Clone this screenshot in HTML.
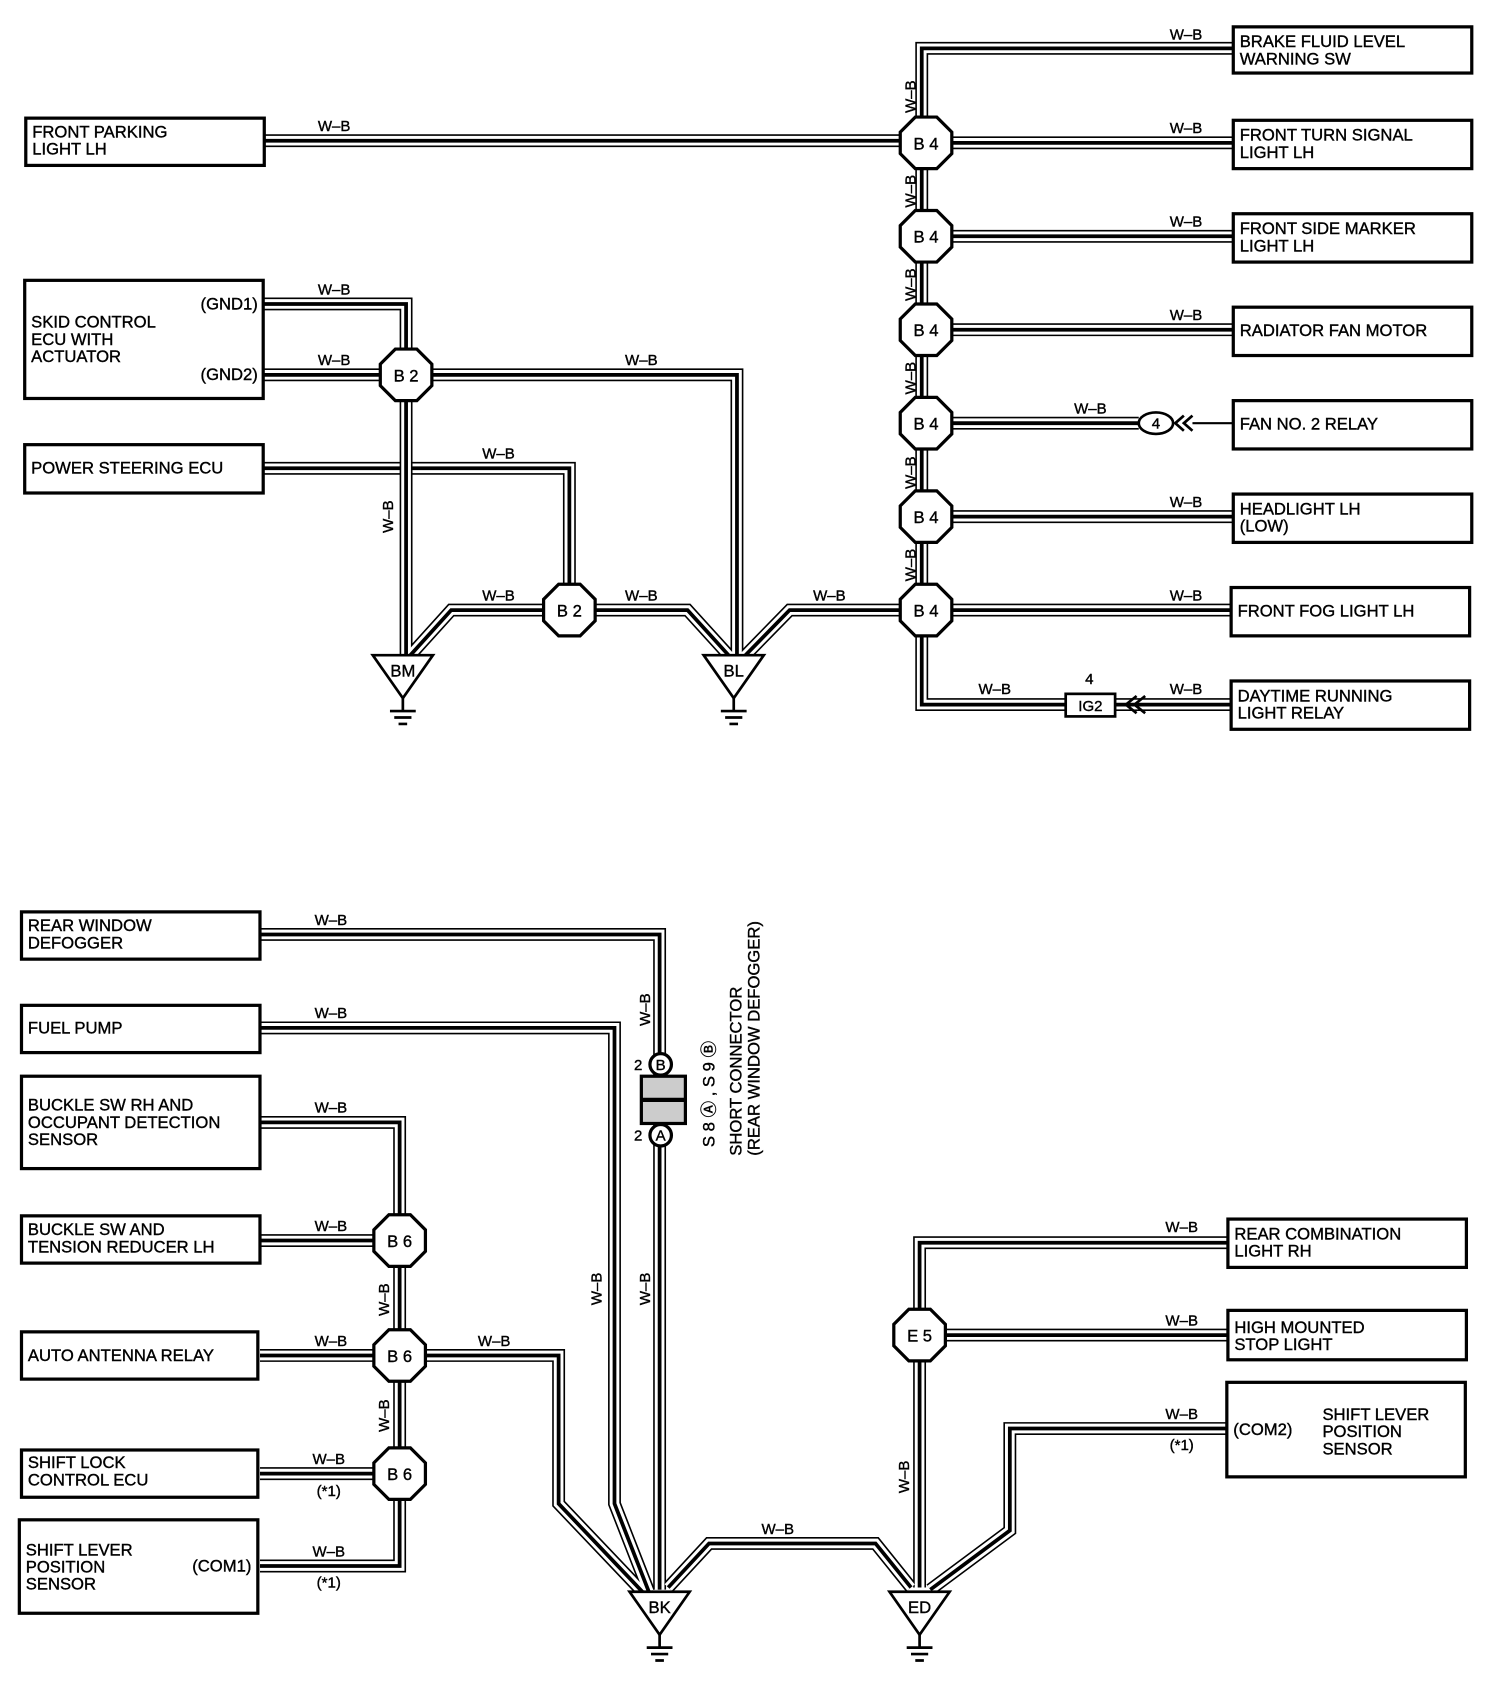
<!DOCTYPE html>
<html><head><meta charset="utf-8"><style>
html,body{margin:0;padding:0;background:#fff;}
svg{display:block;}
text{font-family:"Liberation Sans",sans-serif;fill:#000;stroke:#000;stroke-width:0.35;}
.b{font-size:15.5px;}
.l{font-size:14px;}
</style></head><body>
<svg width="1504" height="1682" viewBox="0 0 1400 1566" preserveAspectRatio="none" xmlns="http://www.w3.org/2000/svg">
<defs>
<g id="w1" fill="none">
<path d="M245 436 H530 V545"/>
</g>
<g id="wires" fill="none">
<path d="M1148 45 H858 V656 H992"/>
<path d="M246 131 H838"/>
<path d="M886 133 H1148 M886 220 H1148 M886 307 H1148 M886 394 H1060 M886 481 H1148 M886 568 H1148"/>
<path d="M1038 656 H1148"/>
<path d="M245 283 H378 V610 M245 349 H354 M402 349 H686 V612"/>
<path d="M506 568 H420 L382 610 M554 568 H640 L680 612"/>
<path d="M838 568 H735 L692 612"/>
<path d="M242 870 H614 V1480"/>
<path d="M242 957 H572 V1400 L604 1482"/>
<path d="M242 1045 H372 V1458 H242"/>
<path d="M242 1155 H348 M242 1262 H348 M242 1372 H348"/>
<path d="M396 1262 H520 V1400 L598 1482"/>
<path d="M622 1478 L660 1437 H815 L848 1478"/>
<path d="M1143 1157 H856 V1478"/>
<path d="M880 1243 H1143"/>
<path d="M1142 1330 H940 V1425 L866 1480"/>
</g>
<polygon id="oct" points="-10,-24 10,-24 24,-10 24,10 10,24 -10,24 -24,10 -24,-10" fill="#fff" stroke="#000" stroke-width="3"/>
<g id="gnd" fill="#fff" stroke="#000" stroke-width="2.5">
<polygon points="-28,0 28,0 0,40"/>
<path d="M0 40 V52 M-12 52 H12 M-8 58 H8 M-4 64 H4" fill="none"/>
</g>
</defs>
<use href="#w1" stroke="#000" stroke-width="12"/>
<use href="#w1" stroke="#fff" stroke-width="9"/>
<use href="#w1" stroke="#000" stroke-width="3.5"/>
<use href="#wires" stroke="#000" stroke-width="12"/>
<use href="#wires" stroke="#fff" stroke-width="9"/>
<use href="#wires" stroke="#000" stroke-width="3.5"/>
<path d="M1110 394 H1148" stroke="#000" stroke-width="2"/>

<g fill="#fff" stroke="#000" stroke-width="3">
<rect x="1148" y="25" width="222" height="43"/>
<rect x="1148" y="112" width="222" height="45"/>
<rect x="1148" y="199" width="222" height="45"/>
<rect x="1148" y="286" width="222" height="45"/>
<rect x="1148" y="373" width="222" height="45"/>
<rect x="1148" y="460" width="222" height="45"/>
<rect x="1146" y="547" width="222" height="45"/>
<rect x="1146" y="634" width="222" height="45"/>
<rect x="24" y="110" width="222" height="44"/>
<rect x="23" y="261" width="222" height="110"/>
<rect x="23" y="414" width="222" height="45"/>
<rect x="20" y="849" width="222" height="44"/>
<rect x="20" y="936" width="222" height="44"/>
<rect x="20" y="1002" width="222" height="86"/>
<rect x="20" y="1132" width="222" height="44"/>
<rect x="20" y="1240" width="220" height="44"/>
<rect x="20" y="1350" width="220" height="44"/>
<rect x="18" y="1415" width="222" height="87"/>
<rect x="1143" y="1135" width="222" height="45"/>
<rect x="1143" y="1220" width="222" height="46"/>
<rect x="1142" y="1287" width="222" height="88"/>
<rect x="992" y="646" width="46" height="21" stroke-width="2.5"/>
<ellipse cx="1076" cy="394" rx="16" ry="10" stroke-width="2.5"/>
</g>
<text x="1014" y="637" class="l" text-anchor="middle">4</text>
<text x="1015" y="662" class="l" text-anchor="middle">IG2</text>
<text x="1076" y="399" class="l" text-anchor="middle">4</text>
<path d="M1058 648 L1048 656 L1058 664 M1066 648 L1056 656 L1066 664 M1102 387 L1094 394 L1102 401 M1110 387 L1102 394 L1110 401" fill="none" stroke="#000" stroke-width="2.5"/>

<g class="b">
<text x="1154" y="44">BRAKE FLUID LEVEL</text><text x="1154" y="60">WARNING SW</text>
<text x="1154" y="131">FRONT TURN SIGNAL</text><text x="1154" y="147">LIGHT LH</text>
<text x="1154" y="218">FRONT SIDE MARKER</text><text x="1154" y="234">LIGHT LH</text>
<text x="1154" y="313">RADIATOR FAN MOTOR</text>
<text x="1154" y="400">FAN NO. 2 RELAY</text>
<text x="1154" y="479">HEADLIGHT LH</text><text x="1154" y="495">(LOW)</text>
<text x="1152" y="574">FRONT FOG LIGHT LH</text>
<text x="1152" y="653">DAYTIME RUNNING</text><text x="1152" y="669">LIGHT RELAY</text>
<text x="30" y="128">FRONT PARKING</text><text x="30" y="144">LIGHT LH</text>
<text x="29" y="305">SKID CONTROL</text><text x="29" y="321">ECU WITH</text><text x="29" y="337">ACTUATOR</text>
<text x="240" y="288" text-anchor="end">(GND1)</text><text x="240" y="354" text-anchor="end">(GND2)</text>
<text x="29" y="441">POWER STEERING ECU</text>
<text x="26" y="867">REAR WINDOW</text><text x="26" y="883">DEFOGGER</text>
<text x="26" y="962">FUEL PUMP</text>
<text x="26" y="1034">BUCKLE SW RH AND</text><text x="26" y="1050">OCCUPANT DETECTION</text><text x="26" y="1066">SENSOR</text>
<text x="26" y="1150">BUCKLE SW AND</text><text x="26" y="1166">TENSION REDUCER LH</text>
<text x="26" y="1267">AUTO ANTENNA RELAY</text>
<text x="26" y="1367">SHIFT LOCK</text><text x="26" y="1383">CONTROL ECU</text>
<text x="24" y="1448">SHIFT LEVER</text><text x="24" y="1464">POSITION</text><text x="24" y="1480">SENSOR</text>
<text x="234" y="1463" text-anchor="end">(COM1)</text>
<text x="1149" y="1154">REAR COMBINATION</text><text x="1149" y="1170">LIGHT RH</text>
<text x="1149" y="1241">HIGH MOUNTED</text><text x="1149" y="1257">STOP LIGHT</text>
<text x="1148" y="1336">(COM2)</text>
<text x="1231" y="1322">SHIFT LEVER</text><text x="1231" y="1338">POSITION</text><text x="1231" y="1354">SENSOR</text>
</g>

<g class="l" text-anchor="middle">
<text x="1104" y="37">W–B</text><text x="1104" y="124">W–B</text><text x="1104" y="211">W–B</text><text x="1104" y="298">W–B</text>
<text x="1015" y="385">W–B</text><text x="1104" y="472">W–B</text><text x="1104" y="559">W–B</text>
<text x="926" y="646">W–B</text><text x="1104" y="646">W–B</text>
<text x="311" y="122">W–B</text><text x="311" y="274">W–B</text><text x="311" y="340">W–B</text>
<text x="597" y="340">W–B</text><text x="464" y="427">W–B</text>
<text x="464" y="559">W–B</text><text x="597" y="559">W–B</text><text x="772" y="559">W–B</text>
<text x="308" y="861">W–B</text><text x="308" y="948">W–B</text><text x="308" y="1036">W–B</text>
<text x="308" y="1146">W–B</text><text x="308" y="1253">W–B</text><text x="460" y="1253">W–B</text>
<text x="306" y="1363">W–B</text><text x="306" y="1393">(*1)</text>
<text x="306" y="1449">W–B</text><text x="306" y="1478">(*1)</text>
<text x="724" y="1428">W–B</text>
<text x="1100" y="1147">W–B</text><text x="1100" y="1234">W–B</text><text x="1100" y="1321">W–B</text><text x="1100" y="1350">(*1)</text>
</g>
<g class="l" text-anchor="middle">
<text transform="translate(852,90) rotate(-90)">W–B</text>
<text transform="translate(852,178) rotate(-90)">W–B</text>
<text transform="translate(852,265) rotate(-90)">W–B</text>
<text transform="translate(852,352) rotate(-90)">W–B</text>
<text transform="translate(852,440) rotate(-90)">W–B</text>
<text transform="translate(852,526) rotate(-90)">W–B</text>
<text transform="translate(366,481) rotate(-90)">W–B</text>
<text transform="translate(605,940) rotate(-90)">W–B</text>
<text transform="translate(560,1200) rotate(-90)">W–B</text>
<text transform="translate(605,1200) rotate(-90)">W–B</text>
<text transform="translate(362,1210) rotate(-90)">W–B</text>
<text transform="translate(362,1318) rotate(-90)">W–B</text>
<text transform="translate(846,1375) rotate(-90)">W–B</text>
</g>

<g class="b" text-anchor="middle">
<use href="#oct" x="862" y="133"/><text x="862" y="139">B 4</text>
<use href="#oct" x="862" y="220"/><text x="862" y="226">B 4</text>
<use href="#oct" x="862" y="307"/><text x="862" y="313">B 4</text>
<use href="#oct" x="862" y="394"/><text x="862" y="400">B 4</text>
<use href="#oct" x="862" y="481"/><text x="862" y="487">B 4</text>
<use href="#oct" x="862" y="568"/><text x="862" y="574">B 4</text>
<use href="#oct" x="378" y="349"/><text x="378" y="355">B 2</text>
<use href="#oct" x="530" y="568"/><text x="530" y="574">B 2</text>
<use href="#oct" x="372" y="1155"/><text x="372" y="1161">B 6</text>
<use href="#oct" x="372" y="1262"/><text x="372" y="1268">B 6</text>
<use href="#oct" x="372" y="1372"/><text x="372" y="1378">B 6</text>
<use href="#oct" x="856" y="1243"/><text x="856" y="1249">E 5</text>
<use href="#gnd" x="375" y="610"/><text x="375" y="630">BM</text>
<use href="#gnd" x="683" y="610"/><text x="683" y="630">BL</text>
<use href="#gnd" x="614" y="1482"/><text x="614" y="1502">BK</text>
<use href="#gnd" x="856" y="1482"/><text x="856" y="1502">ED</text>
</g>

<rect x="597" y="1002" width="41" height="44" fill="#ccc" stroke="#000" stroke-width="3"/>
<path d="M597 1024 H638" stroke="#000" stroke-width="4"/>
<circle cx="615" cy="991" r="10" fill="#fff" stroke="#000" stroke-width="3"/>
<circle cx="615" cy="1057" r="10" fill="#fff" stroke="#000" stroke-width="3"/>
<g class="l" text-anchor="middle"><text x="615" y="996">B</text><text x="615" y="1062">A</text>
<text x="594" y="996">2</text><text x="594" y="1062">2</text></g>
<g class="b">
<text transform="translate(665,1068) rotate(-90)">S 8 Ⓐ , S 9 Ⓑ</text>
<text transform="translate(690,1076) rotate(-90)">SHORT CONNECTOR</text>
<text transform="translate(707,1076) rotate(-90)">(REAR WINDOW DEFOGGER)</text>
</g>
</svg>
</body></html>
